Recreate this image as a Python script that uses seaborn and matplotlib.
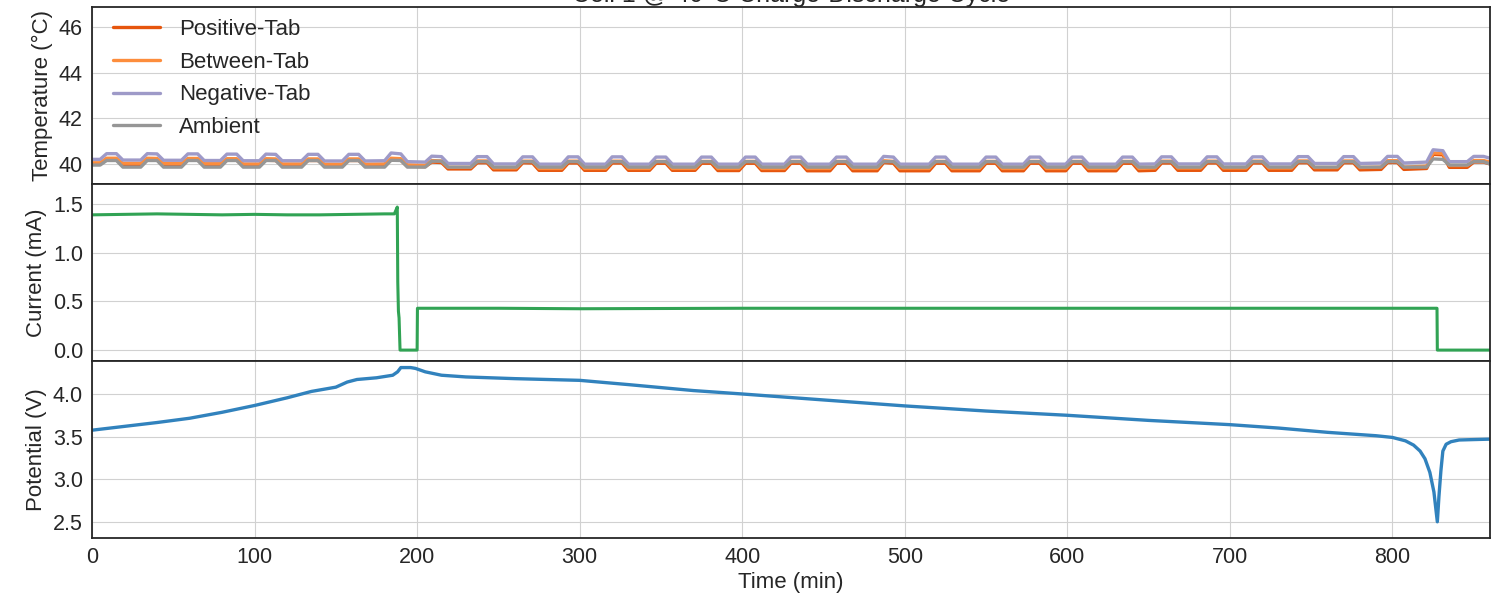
import numpy as np
import pandas as pd
import matplotlib
matplotlib.use("Agg")
import matplotlib.pyplot as plt
import seaborn as sns

# ---------------- data ----------------
t_temp = [0,
    5, 9, 15, 19, 30, 34, 40, 44, 55, 59, 65, 69, 79, 83, 89, 93,
    103, 107, 113, 117, 129, 133, 139, 143, 154, 158, 164, 168, 180, 184, 190, 194,
    205, 209, 215, 219, 233, 237, 243, 247, 261, 265, 271, 275, 289, 293, 299, 303,
    316, 320, 326, 330, 343, 347, 353, 357, 371, 375, 381, 385, 398, 402, 408, 412,
    426, 430, 436, 440, 454, 458, 464, 468, 483, 487, 493, 497, 515, 519, 525, 529,
    546, 550, 556, 560, 573, 577, 583, 587, 599, 603, 609, 613, 630, 634, 640, 644,
    654, 658, 664, 668, 682, 686, 692, 696, 710, 714, 720, 724, 738, 742, 748, 752,
    766, 770, 776, 780, 793, 797, 803, 807, 821, 825, 831, 835, 846, 850, 856, 860]

positive_tab = [40.00,
    40.00, 40.18, 40.18, 39.98, 39.98, 40.18, 40.17, 39.97, 39.97, 40.17, 40.17, 39.96, 39.96, 40.16, 40.16, 39.95,
    39.95, 40.16, 40.15, 39.95, 39.95, 40.15, 40.15, 39.94, 39.94, 40.15, 40.15, 39.94, 39.96, 40.18, 40.16, 39.90,
    39.88, 40.08, 40.06, 39.78, 39.78, 40.05, 40.05, 39.74, 39.74, 40.05, 40.04, 39.72, 39.72, 40.04, 40.04, 39.72,
    39.72, 40.04, 40.04, 39.72, 39.72, 40.03, 40.03, 39.72, 39.72, 40.03, 40.03, 39.71, 39.71, 40.03, 40.03, 39.71,
    39.71, 40.03, 40.03, 39.70, 39.70, 40.03, 40.03, 39.70, 39.70, 40.06, 40.03, 39.70, 39.70, 40.03, 40.03, 39.70,
    39.70, 40.03, 40.03, 39.70, 39.70, 40.03, 40.03, 39.70, 39.70, 40.03, 40.03, 39.70, 39.70, 40.03, 40.03, 39.70,
    39.72, 40.04, 40.04, 39.72, 39.72, 40.04, 40.04, 39.72, 39.72, 40.04, 40.04, 39.72, 39.72, 40.05, 40.05, 39.74,
    39.74, 40.05, 40.05, 39.74, 39.76, 40.06, 40.06, 39.76, 39.80, 40.42, 40.40, 39.85, 39.85, 40.08, 40.08, 40.00]

between_tab = [40.05,
    40.05, 40.25, 40.25, 40.03, 40.03, 40.25, 40.24, 40.02, 40.02, 40.24, 40.24, 40.01, 40.01, 40.23, 40.23, 40.00,
    40.00, 40.23, 40.22, 40.00, 40.00, 40.22, 40.22, 39.99, 39.99, 40.22, 40.22, 39.99, 40.00, 40.25, 40.23, 39.96,
    39.94, 40.15, 40.13, 39.85, 39.85, 40.13, 40.13, 39.82, 39.82, 40.12, 40.12, 39.80, 39.80, 40.12, 40.12, 39.80,
    39.80, 40.12, 40.12, 39.80, 39.80, 40.11, 40.11, 39.80, 39.80, 40.11, 40.11, 39.80, 39.80, 40.11, 40.11, 39.80,
    39.80, 40.11, 40.11, 39.80, 39.80, 40.11, 40.11, 39.80, 39.80, 40.14, 40.11, 39.80, 39.80, 40.11, 40.11, 39.80,
    39.80, 40.11, 40.11, 39.80, 39.80, 40.11, 40.11, 39.80, 39.80, 40.11, 40.11, 39.80, 39.80, 40.11, 40.11, 39.80,
    39.82, 40.12, 40.12, 39.82, 39.82, 40.12, 40.12, 39.82, 39.82, 40.12, 40.12, 39.82, 39.82, 40.13, 40.13, 39.84,
    39.84, 40.13, 40.13, 39.84, 39.86, 40.14, 40.14, 39.86, 39.90, 40.48, 40.46, 39.93, 39.93, 40.15, 40.15, 40.08]

negative_tab = [40.20,
    40.20, 40.45, 40.45, 40.17, 40.17, 40.45, 40.44, 40.16, 40.16, 40.44, 40.44, 40.15, 40.15, 40.43, 40.43, 40.14,
    40.14, 40.43, 40.42, 40.14, 40.14, 40.42, 40.42, 40.13, 40.13, 40.42, 40.42, 40.13, 40.14, 40.48, 40.44, 40.10,
    40.08, 40.34, 40.32, 40.02, 40.02, 40.32, 40.32, 40.00, 40.00, 40.31, 40.31, 39.99, 39.99, 40.31, 40.31, 39.99,
    39.99, 40.31, 40.31, 39.99, 39.99, 40.30, 40.30, 39.99, 39.99, 40.30, 40.30, 39.99, 39.99, 40.30, 40.30, 39.99,
    39.99, 40.30, 40.30, 39.99, 39.99, 40.30, 40.30, 39.99, 39.99, 40.33, 40.30, 39.99, 39.99, 40.30, 40.30, 39.99,
    39.99, 40.30, 40.30, 39.99, 39.99, 40.30, 40.30, 39.99, 39.99, 40.30, 40.30, 39.99, 39.99, 40.30, 40.30, 39.99,
    40.00, 40.31, 40.31, 40.00, 40.00, 40.31, 40.31, 40.00, 40.00, 40.31, 40.31, 40.00, 40.00, 40.32, 40.32, 40.02,
    40.02, 40.32, 40.32, 40.02, 40.04, 40.33, 40.33, 40.04, 40.08, 40.62, 40.58, 40.10, 40.10, 40.33, 40.33, 40.25]

ambient = [39.95,
    39.95, 40.15, 40.15, 39.86, 39.86, 40.15, 40.15, 39.86, 39.86, 40.15, 40.15, 39.86, 39.86, 40.15, 40.15, 39.86,
    39.86, 40.15, 40.15, 39.86, 39.86, 40.15, 40.15, 39.86, 39.86, 40.15, 40.15, 39.86, 39.86, 40.16, 40.15, 39.86,
    39.86, 40.12, 40.12, 39.86, 39.86, 40.10, 40.10, 39.86, 39.86, 40.10, 40.10, 39.86, 39.86, 40.10, 40.10, 39.86,
    39.86, 40.10, 40.10, 39.86, 39.86, 40.10, 40.10, 39.86, 39.86, 40.10, 40.10, 39.86, 39.86, 40.10, 40.10, 39.86,
    39.86, 40.10, 40.10, 39.86, 39.86, 40.10, 40.10, 39.86, 39.86, 40.10, 40.10, 39.86, 39.86, 40.10, 40.10, 39.86,
    39.86, 40.10, 40.10, 39.86, 39.86, 40.10, 40.10, 39.86, 39.86, 40.10, 40.10, 39.86, 39.86, 40.10, 40.10, 39.86,
    39.86, 40.10, 40.10, 39.86, 39.86, 40.10, 40.10, 39.86, 39.86, 40.10, 40.10, 39.86, 39.86, 40.10, 40.10, 39.86,
    39.86, 40.10, 40.10, 39.86, 39.86, 40.10, 40.10, 39.86, 39.86, 40.22, 40.20, 39.95, 39.95, 40.10, 40.10, 40.00]

t_current = [0, 20, 40, 60, 80, 100, 120, 140, 160, 180, 186, 187.8, 188.1, 188.5, 188.9, 189.5,
             200.0, 200.2, 250, 300, 400, 500, 600, 700, 800, 827.4, 827.6, 860]
current_ma = [1.39, 1.395, 1.40, 1.395, 1.39, 1.395, 1.39, 1.39, 1.395, 1.40, 1.40, 1.47, 0.70, 0.40, 0.33, 0.0,
              0.0, 0.43, 0.43, 0.425, 0.43, 0.43, 0.43, 0.43, 0.43, 0.43, 0.0, 0.0]

t_voltage = [0, 20, 40, 60, 80, 100, 120, 135, 150, 157, 163, 175, 185, 188, 190, 196, 199, 205, 215,
             230, 260, 300, 330, 370, 400, 450, 500, 550, 600, 650, 700, 730, 760, 790, 800, 808,
             813, 817, 820, 823, 825.5, 827.6, 828.6, 829.8, 831, 833, 836, 841, 850, 860]
potential_v = [3.575, 3.62, 3.665, 3.715, 3.785, 3.865, 3.955, 4.03, 4.08, 4.14, 4.17, 4.19, 4.22, 4.26, 4.31, 4.31,
               4.30, 4.26, 4.22, 4.20, 4.18, 4.16, 4.11, 4.04, 4.00, 3.93, 3.86, 3.80, 3.75, 3.69, 3.64, 3.60,
               3.55, 3.51, 3.49, 3.45, 3.40, 3.33, 3.24, 3.08, 2.85, 2.50, 2.80, 3.10, 3.33, 3.41, 3.44, 3.46,
               3.465, 3.47]

temp_names = ["Positive-Tab", "Between-Tab", "Negative-Tab", "Ambient"]
temp_colors = ["#e6550d", "#fd8d3c", "#9e9ac8", "#969696"]

# ---------------- style ----------------
sns.set_style("whitegrid", {"axes.edgecolor": "0.15", "grid.color": "0.82"})
plt.rcParams["font.family"] = ["Liberation Sans", "DejaVu Sans"]
plt.rcParams["axes.linewidth"] = 1.3
FS = 16

fig = plt.figure(figsize=(14.91, 5.96), dpi=100)
gs = fig.add_gridspec(3, 1, left=92/1491, right=1490/1491, top=1-7/596, bottom=1-538/596, hspace=0)
ax1 = fig.add_subplot(gs[0])
ax2 = fig.add_subplot(gs[1], sharex=ax1)
ax3 = fig.add_subplot(gs[2], sharex=ax1)

temp_df = pd.DataFrame({"t": t_temp, "Positive-Tab": positive_tab, "Between-Tab": between_tab,
                        "Negative-Tab": negative_tab, "Ambient": ambient})
for name, col in zip(temp_names, temp_colors):
    sns.lineplot(data=temp_df, x="t", y=name, ax=ax1, color=col, lw=2.4, label=name)

sns.lineplot(x=t_current, y=current_ma, ax=ax2, color="#31a354", lw=2.2, sort=False)
sns.lineplot(x=t_voltage, y=potential_v, ax=ax3, color="#3182bd", lw=2.4)

ax1.set_ylim(39.12, 46.88)
ax1.set_yticks([40, 42, 44, 46])
ax2.set_ylim(-0.112, 1.707)
ax2.set_yticks([0.0, 0.5, 1.0, 1.5])
ax3.set_ylim(2.31, 4.387)
ax3.set_yticks([2.5, 3.0, 3.5, 4.0])
ax3.set_xlim(0, 860)
ax3.set_xticks([0, 100, 200, 300, 400, 500, 600, 700, 800])

ax1.set_ylabel("Temperature (°C)", fontsize=FS)
ax2.set_ylabel("Current (mA)", fontsize=FS)
ax3.set_ylabel("Potential (V)", fontsize=FS)
ax3.set_xlabel("Time (min)", fontsize=FS, labelpad=3)
for ax in (ax1, ax2):
    ax.set_xlabel("")
    ax.tick_params(labelbottom=False)
for ax in (ax1, ax2, ax3):
    ax.tick_params(labelsize=FS - 0.5, colors="0.15", pad=3)
    for s in ax.spines.values():
        s.set_color("0.15")

ax1.legend(loc="upper left", bbox_to_anchor=(0.009, 0.983), frameon=False, fontsize=FS,
           handlelength=2.1, borderaxespad=0.0, labelspacing=0.53, handletextpad=0.85)
ax1.set_title("Cell 1 @ 40°C Charge-Discharge Cycle", fontsize=18, pad=3, color="0.15")

fig.savefig("out.png", dpi=100)
